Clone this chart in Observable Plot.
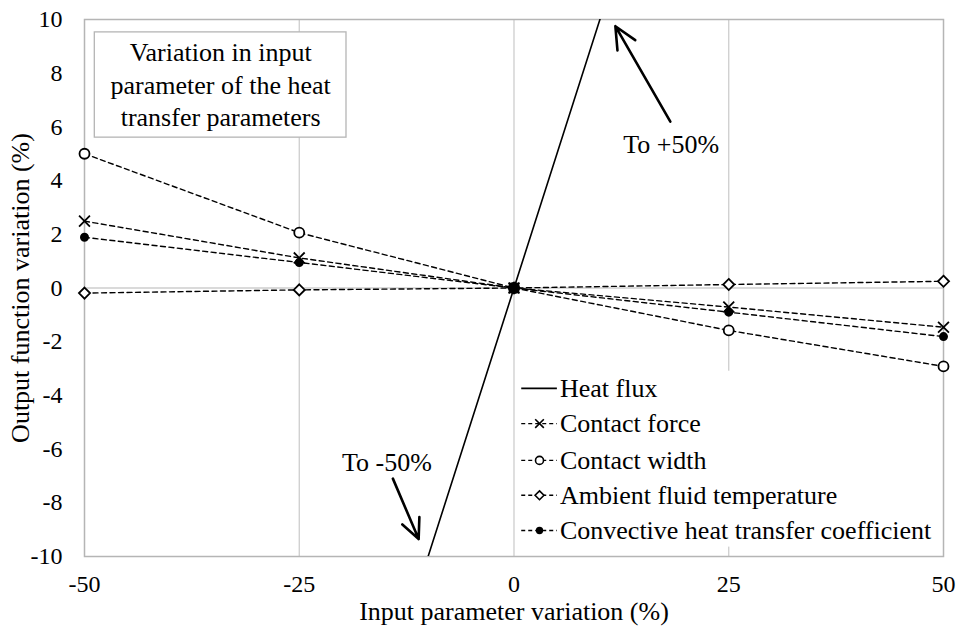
<!DOCTYPE html>
<html>
<head>
<meta charset="utf-8">
<script src="https://cdn.jsdelivr.net/npm/d3@7"></script>
<script src="https://cdn.jsdelivr.net/npm/@observablehq/plot@0.6"></script>
<style>
  html, body { margin: 0; padding: 0; background: #fff; }
  #chart { width: 969px; height: 628px; }
  #chart svg text { font-family: "Liberation Serif", "Times New Roman", serif; font-variant: normal; }
</style>
</head>
<body>
<div id="chart"></div>
<script>
// ---- data ----
const xValues = [-50, -25, 0, 25, 50];
const heatFlux = [-50, -25, 0, 25, 50];
const contactForce = [2.49, 1.12, 0, -0.71, -1.46];
const contactWidth = [5.0, 2.06, 0, -1.58, -2.92];
const ambientTemp = [-0.19, -0.07, 0, 0.13, 0.25];
const convective = [1.89, 0.95, 0, -0.90, -1.81];
const seriesNames = ["Heat flux", "Contact force", "Contact width", "Ambient fluid temperature", "Convective heat transfer coefficient"];
const xTicks = [-50, -25, 0, 25, 50];
const yTicks = [-10, -8, -6, -4, -2, 0, 2, 4, 6, 8, 10];
const boxLines = ["Variation in input", "parameter of the heat", "transfer parameters"];
const arrowLabels = ["To +50%", "To -50%"];

// ---- build table ----
const valuesBySeries = [heatFlux, contactForce, contactWidth, ambientTemp, convective];
const rows = [];
seriesNames.forEach((name, i) => {
  xValues.forEach((x, j) => rows.push({series: name, x, y: valuesBySeries[i][j]}));
});
const bySeries = name => rows.filter(d => d.series === name);

// styles per series
const symbolOf = {
  "Contact force": {symbol: "times", fill: "none", stroke: "black", r: 5},
  "Contact width": {symbol: "circle", fill: "white", stroke: "black", r: 5},
  "Ambient fluid temperature": {symbol: "diamond2", fill: "white", stroke: "black", r: 5},
  "Convective heat transfer coefficient": {symbol: "circle", fill: "black", stroke: "black", r: 3.6}
};
const dashed = seriesNames.slice(1);

// annotation layout (data coordinates)
const boxRect = [{x1: -48.8, x2: -19.5, y1: 5.6, y2: 9.52}];
const boxText = boxLines.map((t, i) => ({t, x: -34.15, y: [8.77, 7.54, 6.35][i]}));
const legendRect = [{x1: 0.25, x2: 49.6, y1: -3.1, y2: -9.65}];
const legendRows = seriesNames.map((s, i) => ({s, y: [-3.74, -5.05, -6.42, -7.72, -9.03][i]}));
const arrows = [
  {x1: 18.2, y1: 6.2, x2: 11.8, y2: 9.75},
  {x1: -14.1, y1: -7.1, x2: -11.1, y2: -9.35}
];
const arrowText = [
  {t: arrowLabels[0], x: 18.3, y: 5.35},
  {t: arrowLabels[1], x: -14.8, y: -6.5}
];

const font = "Liberation Serif, Times New Roman, serif";
const grid = "#c9c9c9";
const fs = 26;

const marks = [
  Plot.ruleX([-25, 0, 25], {stroke: grid, strokeWidth: 1.2}),
  Plot.ruleY([0], {stroke: "#b5b5b5", strokeWidth: 1.2}),
  Plot.frame({stroke: "#b5b5b5", strokeWidth: 1.5}),
  // text box
  Plot.rect(boxRect, {x1: "x1", x2: "x2", y1: "y1", y2: "y2", fill: "white", stroke: "#b5b5b5", strokeWidth: 1.3}),
  Plot.text(boxText, {x: "x", y: "y", text: "t", fontSize: fs, fill: "black"}),
  // legend background
  Plot.rect(legendRect, {x1: "x1", x2: "x2", y1: "y1", y2: "y2", fill: "white"}),
];

// dashed series lines
dashed.forEach(name => {
  marks.push(Plot.line(bySeries(name), {x: "x", y: "y", stroke: "black", strokeWidth: 1.4, strokeDasharray: "5,3.5"}));
});
// heat flux
marks.push(Plot.line(bySeries("Heat flux"), {x: "x", y: "y", stroke: "black", strokeWidth: 1.6, clip: true}));
// markers
dashed.forEach(name => {
  const s = symbolOf[name];
  marks.push(Plot.dot(bySeries(name), {x: "x", y: "y", symbol: s.symbol, r: s.r, fill: s.fill, stroke: s.stroke, strokeWidth: 1.8}));
});
// filled square where all series meet
marks.push(Plot.dot(bySeries("Heat flux").filter(d => d.x === 0), {x: "x", y: "y", symbol: "square", r: 6, fill: "black"}));

// arrows and labels
marks.push(Plot.arrow(arrows, {x1: "x1", y1: "y1", x2: "x2", y2: "y2", stroke: "black", strokeWidth: 2.6, headLength: 14, headAngle: 50}));
marks.push(Plot.text(arrowText, {x: "x", y: "y", text: "t", fontSize: fs, fill: "black"}));

// legend entries
const swX1 = 0.9, swX2 = 5.05, swMid = 2.97, txX = 5.35;
legendRows.forEach(row => {
  const isHeat = row.s === "Heat flux";
  marks.push(Plot.ruleY([row], {y: "y", x1: swX1, x2: swX2, stroke: "black", strokeWidth: isHeat ? 1.6 : 1.4, strokeDasharray: isHeat ? null : "4,3"}));
  if (!isHeat) {
    const s = symbolOf[row.s];
    marks.push(Plot.dot([row], {x: () => swMid, y: "y", symbol: s.symbol, r: s.r * 0.8, fill: s.fill, stroke: s.stroke, strokeWidth: 1.6}));
  }
});
marks.push(Plot.text(legendRows, {x: () => txX, y: "y", text: "s", textAnchor: "start", fontSize: fs, fill: "black"}));

// axes
marks.push(Plot.axisX(xTicks, {tickSize: 0, tickPadding: 18, fontSize: 24, fontFamily: font, label: null, tickFormat: d => String(d)}));
marks.push(Plot.axisY(yTicks, {tickSize: 0, tickPadding: 22, fontSize: 24, fontFamily: font, label: null, tickFormat: d => String(d)}));
marks.push(Plot.text(["Input parameter variation (%)"], {frameAnchor: "bottom", dy: 55, lineAnchor: "middle", fontSize: fs, fill: "black", text: d => d}));
marks.push(Plot.text(["Output function variation (%)"], {frameAnchor: "left", dx: -64, rotate: -90, textAnchor: "middle", lineAnchor: "middle", fontSize: fs, fill: "black", text: d => d}));

const chart = Plot.plot({
  width: 969,
  height: 628,
  marginLeft: 84,
  marginRight: 26,
  marginTop: 19,
  marginBottom: 72,
  x: {domain: [-50, 50]},
  y: {domain: [-10, 10]},
  style: {fontFamily: font, fontSize: "24px", color: "black", background: "white", overflow: "visible"},
  marks
});
document.getElementById("chart").appendChild(chart);
</script>
</body>
</html>
